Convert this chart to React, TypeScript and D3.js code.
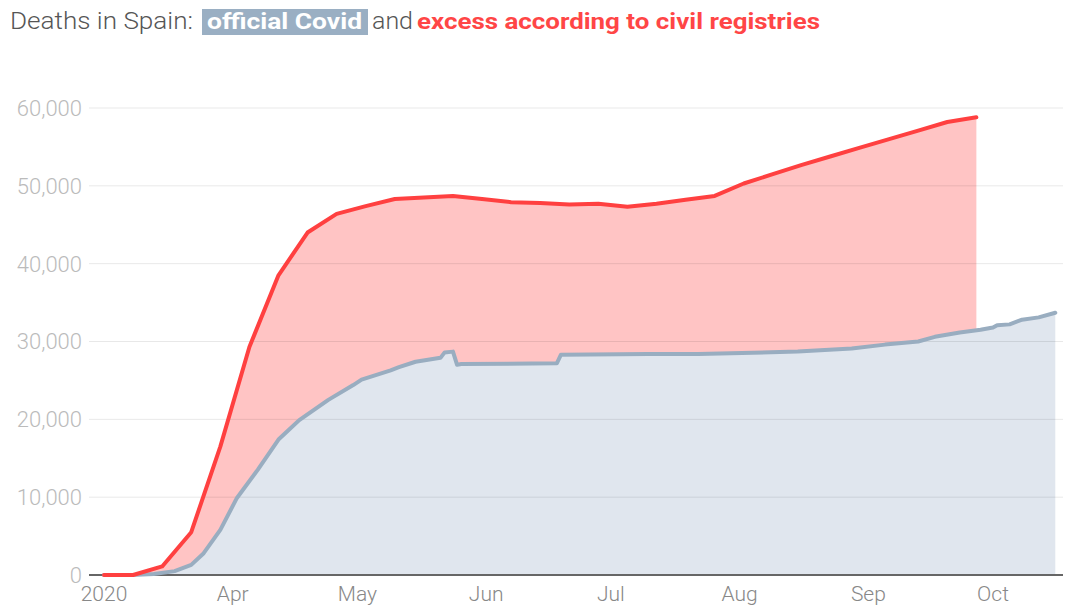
import React from "react";
import * as d3 from "d3";

const excessDates = [
  "2020-03-01", "2020-03-08", "2020-03-15", "2020-03-22", "2020-03-29",
  "2020-04-05", "2020-04-12", "2020-04-19", "2020-04-26", "2020-05-03",
  "2020-05-10", "2020-05-17", "2020-05-24", "2020-05-31", "2020-06-07",
  "2020-06-14", "2020-06-21", "2020-06-28", "2020-07-05", "2020-07-12",
  "2020-07-19", "2020-07-26", "2020-08-02", "2020-08-09", "2020-08-16",
  "2020-08-23", "2020-08-30", "2020-09-06", "2020-09-13", "2020-09-20",
  "2020-09-27",
];
const excessValues = [
  0, 0, 1100, 5500, 16500,
  29300, 38500, 44000, 46400, 47400,
  48300, 48500, 48700, 48300, 47900,
  47800, 47600, 47700, 47300, 47700,
  48200, 48700, 50300, 51500, 52700,
  53800, 54900, 56000, 57100, 58200,
  58800,
];

const officialDates = [
  "2020-03-01", "2020-03-09", "2020-03-13", "2020-03-18", "2020-03-22",
  "2020-03-25", "2020-03-29", "2020-04-02", "2020-04-07", "2020-04-12",
  "2020-04-14", "2020-04-17", "2020-04-24", "2020-04-30", "2020-05-02",
  "2020-05-09", "2020-05-11", "2020-05-15", "2020-05-21", "2020-05-22",
  "2020-05-24", "2020-05-25", "2020-05-26", "2020-06-18", "2020-06-19",
  "2020-07-10", "2020-07-22", "2020-08-15", "2020-08-28", "2020-09-05",
  "2020-09-13", "2020-09-17", "2020-09-23", "2020-09-28", "2020-10-01",
  "2020-10-02", "2020-10-05", "2020-10-08", "2020-10-12", "2020-10-16",
];
const officialValues = [
  0, 30, 130, 500, 1300,
  2800, 5800, 9900, 13500, 17400,
  18400, 19900, 22500, 24400, 25100,
  26300, 26700, 27400, 27900, 28600,
  28700, 27000, 27100, 27200, 28300,
  28400, 28400, 28700, 29100, 29600,
  30000, 30600, 31150, 31500, 31800,
  32100, 32200, 32800, 33100, 33700,
];

const yTicks = [0, 10000, 20000, 30000, 40000, 50000, 60000];
const xTickDates = [
  "2020-03-01", "2020-04-01", "2020-05-01", "2020-06-01",
  "2020-07-01", "2020-08-01", "2020-09-01", "2020-10-01",
];
const xTickLabels = ["2020", "Apr", "May", "Jun", "Jul", "Aug", "Sep", "Oct"];

const W = 1065;
const H = 605;
const FONT = "Roboto, 'Liberation Sans', sans-serif";

export default function App() {
  const parse = d3.utcParse("%Y-%m-%d");
  const excess = excessDates.map((d, i) => ({ date: parse(d)!, value: excessValues[i] }));
  const official = officialDates.map((d, i) => ({ date: parse(d)!, value: officialValues[i] }));

  const x = d3
    .scaleUtc()
    .domain([parse("2020-03-01")!, parse("2020-10-16")!])
    .range([104, 1055.3]);
  const y = d3.scaleLinear().domain([0, 60000]).range([575, 108]);

  const areaGen = d3
    .area<{ date: Date; value: number }>()
    .x((d) => x(d.date))
    .y0(y(0))
    .y1((d) => y(d.value));
  const lineGen = d3
    .line<{ date: Date; value: number }>()
    .x((d) => x(d.date))
    .y((d) => y(d.value));

  const gridX0 = 89;
  const gridX1 = 1063;

  return (
    <svg
      width={W}
      height={H}
      style={{ position: "absolute", left: 0, top: 0, background: "#fff" }}
      fontFamily={FONT}
    >
      {/* Title */}
      <text
        x={10}
        y={29}
        fontSize={23}
        fill="#555"
        fontWeight={300}
        textLength={183}
        lengthAdjust="spacingAndGlyphs"
      >
        Deaths in Spain:
      </text>
      <rect x={202} y={9} width={166} height={26} fill="#9aafc3" />
      <text
        x={207}
        y={29}
        fontSize={22}
        fill="#fff"
        fontWeight={700}
        textLength={155}
        lengthAdjust="spacingAndGlyphs"
      >
        official Covid
      </text>
      <text
        x={372}
        y={29}
        fontSize={23}
        fill="#555"
        fontWeight={300}
        textLength={41}
        lengthAdjust="spacingAndGlyphs"
      >
        and
      </text>
      <text
        x={417}
        y={29}
        fontSize={22}
        fill="#ff4646"
        fontWeight={700}
        textLength={403}
        lengthAdjust="spacingAndGlyphs"
      >
        excess according to civil registries
      </text>

      {/* Areas */}
      <path d={areaGen(excess) || ""} fill="#ffc4c4" />
      <path d={areaGen(official) || ""} fill="#e0e6ee" />

      {/* Grid */}
      {yTicks.map((t) =>
        t === 0 ? null : (
          <line
            key={t}
            x1={gridX0}
            x2={gridX1}
            y1={y(t)}
            y2={y(t)}
            stroke="#000"
            strokeOpacity={0.09}
            strokeWidth={1}
          />
        )
      )}

      {/* Y labels */}
      {yTicks.map((t) => (
        <text
          key={t}
          x={82}
          y={y(t)}
          dy="0.36em"
          textAnchor="end"
          fontSize={22}
          fill="#bbb"
          fontWeight={300}
        >
          {d3.format(",")(t)}
        </text>
      ))}

      {/* Baseline axis */}
      <line x1={gridX0} x2={gridX1} y1={y(0)} y2={y(0)} stroke="#666" strokeWidth={2} />

      {/* Lines */}
      <path
        d={lineGen(official) || ""}
        fill="none"
        stroke="#99adc0"
        strokeWidth={4}
        strokeLinejoin="round"
        strokeLinecap="round"
      />
      <path
        d={lineGen(excess) || ""}
        fill="none"
        stroke="#ff4040"
        strokeWidth={4}
        strokeLinejoin="round"
        strokeLinecap="round"
      />

      {/* X labels */}
      {xTickDates.map((d, i) => (
        <text
          key={d}
          x={x(parse(d)!)}
          y={601}
          textAnchor="middle"
          fontSize={21}
          fill="#888"
          fontWeight={300}
        >
          {xTickLabels[i]}
        </text>
      ))}
    </svg>
  );
}
